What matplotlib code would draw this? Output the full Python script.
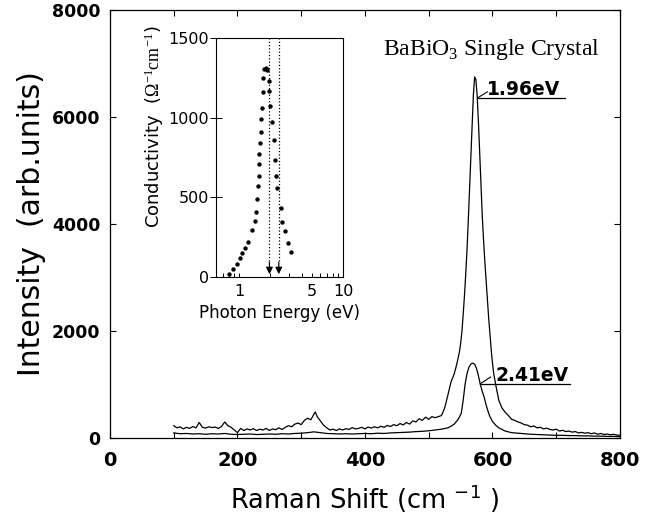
import numpy as np
import matplotlib
matplotlib.use('Agg')
import matplotlib.pyplot as plt
from matplotlib.ticker import MultipleLocator, FixedLocator, FixedFormatter, NullFormatter

plt.rcParams['font.family'] = 'DejaVu Sans'
plt.rcParams['mathtext.fontset'] = 'custom'
plt.rcParams['mathtext.rm'] = 'Liberation Serif'
plt.rcParams['mathtext.sf'] = 'DejaVu Sans'

# Raman spectrum excited with 1.96 eV (upper curve)
shift_196 = [100, 105, 110, 115, 120, 125, 130, 135, 140, 145, 150, 155, 160, 165, 170, 175,
             180, 185, 190, 195, 200, 205, 210, 215, 220, 225, 230, 235, 240, 245, 250, 255,
             260, 265, 270, 275, 280, 285, 290, 295, 300, 305, 310, 315, 320, 322, 325, 330,
             335, 340, 345, 350, 355, 360, 365, 370, 375, 380, 385, 390, 395, 400, 405, 410,
             415, 420, 425, 430, 435, 440, 445, 450, 455, 460, 465, 470, 475, 480, 485, 490,
             495, 500, 505, 510, 515, 520, 525, 530, 535, 540, 544, 548, 550, 552, 554, 556,
             558, 560, 562, 564, 566, 568, 570, 572, 574, 576, 578, 580, 582, 584, 586, 588,
             590, 592, 594, 596, 598, 600, 602, 605, 610, 615, 620, 625, 630, 635, 640, 645,
             650, 655, 660, 665, 670, 675, 680, 685, 690, 695, 700, 705, 710, 715, 720, 725,
             730, 735, 740, 745, 750, 755, 760, 765, 770, 775, 780, 785, 790, 795, 800]
int_196 = [230, 190, 210, 170, 200, 180, 215, 190, 290, 200, 185, 210, 195, 205, 180, 215,
           300, 230, 200, 150, 100, 180, 140, 170, 150, 175, 140, 165, 150, 180, 140, 170,
           155, 190, 160, 200, 230, 210, 260, 280, 250, 330, 370, 340, 450, 490, 400, 320,
           240, 190, 150, 165, 140, 170, 150, 175, 160, 195, 170, 180, 200, 170, 205, 185,
           210, 190, 220, 200, 235, 215, 250, 230, 270, 245, 290, 260, 320, 300, 360, 330,
           390, 350, 400, 380, 400, 420, 560, 800, 1050, 1200, 1380, 1600, 1760, 1980, 2300, 2650,
           3050, 3500, 4050, 4650, 5250, 5900, 6400, 6750, 6700, 6400, 5900, 5300, 4700, 4150, 3700, 3300,
           2950, 2600, 2250, 1950, 1650, 1400, 1200, 1000, 700, 560, 480, 420, 350, 330, 300, 280,
           250, 240, 210, 225, 190, 200, 170, 185, 160, 150, 165, 130, 145, 120, 130, 110,
           120, 95, 105, 90, 100, 80, 95, 70, 85, 65, 75, 60, 70, 55, 50]

# Raman spectrum excited with 2.41 eV (lower curve)
shift_241 = [100, 110, 120, 130, 140, 150, 160, 170, 180, 190, 200, 210, 220, 230, 240, 250,
             260, 270, 280, 290, 300, 310, 320, 330, 340, 350, 360, 370, 380, 390, 400, 410,
             420, 430, 440, 450, 460, 470, 480, 490, 500, 510, 520, 530, 535, 540, 545, 548,
             551, 554, 557, 560, 563, 566, 569, 572, 575, 578, 581, 584, 587, 590, 593, 596,
             600, 605, 610, 615, 620, 625, 630, 640, 650, 660, 670, 680, 690, 700, 710, 720,
             730, 740, 750, 760, 770, 780, 790, 800]
int_241 = [95, 80, 85, 75, 80, 70, 80, 75, 85, 70, 65, 70, 75, 65, 70, 75,
           70, 80, 75, 85, 90, 100, 115, 100, 85, 80, 75, 80, 75, 80, 85, 80,
           90, 85, 95, 100, 105, 110, 120, 125, 135, 150, 165, 190, 220, 260, 330, 390,
           460, 700, 1000, 1200, 1320, 1380, 1400, 1380, 1300, 1160, 1000, 870, 760, 620, 500, 400,
           310, 240, 190, 160, 130, 115, 100, 90, 80, 70, 65, 60, 55, 50, 50, 45,
           45, 40, 40, 35, 35, 30, 30, 25]

# inset: optical conductivity
photon_energy = [0.80, 0.88, 0.96, 1.02, 1.07, 1.14, 1.22, 1.34, 1.41, 1.44, 1.48, 1.53, 1.55,
                 1.56, 1.57, 1.58, 1.62, 1.63, 1.65, 1.69, 1.70, 1.74, 1.80, 1.85, 1.93, 1.96,
                 2.00, 2.07, 2.17, 2.22, 2.27, 2.34, 2.52, 2.61, 2.75, 2.96, 3.18]
conductivity = [19, 52, 80, 121, 153, 182, 218, 295, 353, 406, 490, 571, 636,
                707, 772, 843, 908, 992, 1063, 1159, 1249, 1304, 1312, 1299, 1230, 1169,
                1073, 973, 861, 736, 636, 556, 435, 345, 287, 213, 159]
laser_lines = [1.96, 2.41]

fig = plt.figure(figsize=(6.5, 5.24), dpi=100)
ax = fig.add_axes([0.1692, 0.1641, 0.7846, 0.8168])

ax.plot(shift_196, int_196, c='k', lw=0.9)
ax.plot(shift_241, int_241, c='k', lw=0.9)

ax.set_xlim(0, 800)
ax.set_ylim(0, 8000)
ax.xaxis.set_major_locator(MultipleLocator(200))
ax.xaxis.set_minor_locator(MultipleLocator(100))
ax.yaxis.set_major_locator(MultipleLocator(2000))
ax.tick_params(which='both', direction='in', top=True, right=True, length=4, width=0.8)
ax.tick_params(axis='x', which='major', pad=9, labelsize=14)
ax.tick_params(axis='y', which='major', pad=7, labelsize=12.5)
for lab in ax.get_xticklabels() + ax.get_yticklabels():
    lab.set_fontweight('bold')
for s in ax.spines.values():
    s.set_linewidth(0.9)

ax.set_xlabel(r'Raman Shift (cm $^{\mathsf{-1}}$ )', fontsize=18.5)
ax.xaxis.set_label_coords(0.5, -0.105)
ax.set_ylabel('Intensity  (arb.units)', fontsize=21.5)
ax.yaxis.set_label_coords(-0.125, 0.5)

ax.text(428, 7160, r'BaBiO$_3$ Single Crystal', family='Liberation Serif', fontsize=17)

# peak labels with leaders
ax.text(591, 6411, '1.96eV', fontsize=13.5, fontweight='bold')
ax.plot([577, 714], [6360, 6360], c='k', lw=0.9)
ax.plot([577, 592], [6360, 6470], c='k', lw=0.8)
ax.text(605, 1070, '2.41eV', fontsize=13.5, fontweight='bold')
ax.plot([581, 722], [1015, 1015], c='k', lw=0.9)
ax.plot([581, 597], [1015, 1140], c='k', lw=0.8)

# inset
ins = fig.add_axes([0.3323, 0.4714, 0.1954, 0.4561])
ins.scatter(photon_energy, conductivity, s=10, c='k', lw=0)
for e in laser_lines:
    ins.plot([e, e], [100, 1500], c='k', ls=':', lw=0.9)
    ins.annotate('', xy=(e, 0), xytext=(e, 110),
                 arrowprops=dict(arrowstyle='-|>', color='k', lw=0.9, mutation_scale=10))
ins.set_xscale('log')
ins.set_xlim(0.6, 10)
ins.set_ylim(0, 1500)
ins.xaxis.set_major_locator(FixedLocator([1, 5, 10]))
ins.xaxis.set_major_formatter(FixedFormatter(['1', '5', '10']))
ins.xaxis.set_minor_locator(FixedLocator([0.6, 0.7, 0.8, 0.9, 2, 3, 4, 6, 7, 8, 9]))
ins.xaxis.set_minor_formatter(NullFormatter())
ins.yaxis.set_major_locator(FixedLocator([0, 500, 1000, 1500]))
ins.tick_params(axis='x', which='both', direction='in', length=3, width=0.7, labelsize=11.5, pad=5)
ins.tick_params(axis='y', direction='inout', length=8, width=0.7, labelsize=11.5, pad=1)
for s in ins.spines.values():
    s.set_linewidth(0.8)
ins.set_xlabel('Photon Energy (eV)', fontsize=12)
ins.set_ylabel(r'Conductivity  ($\mathrm{\Omega^{-1}cm^{-1}}$)', fontsize=13)
ins.yaxis.set_label_coords(-0.39, 0.63)

fig.savefig('out.png', dpi=100)
